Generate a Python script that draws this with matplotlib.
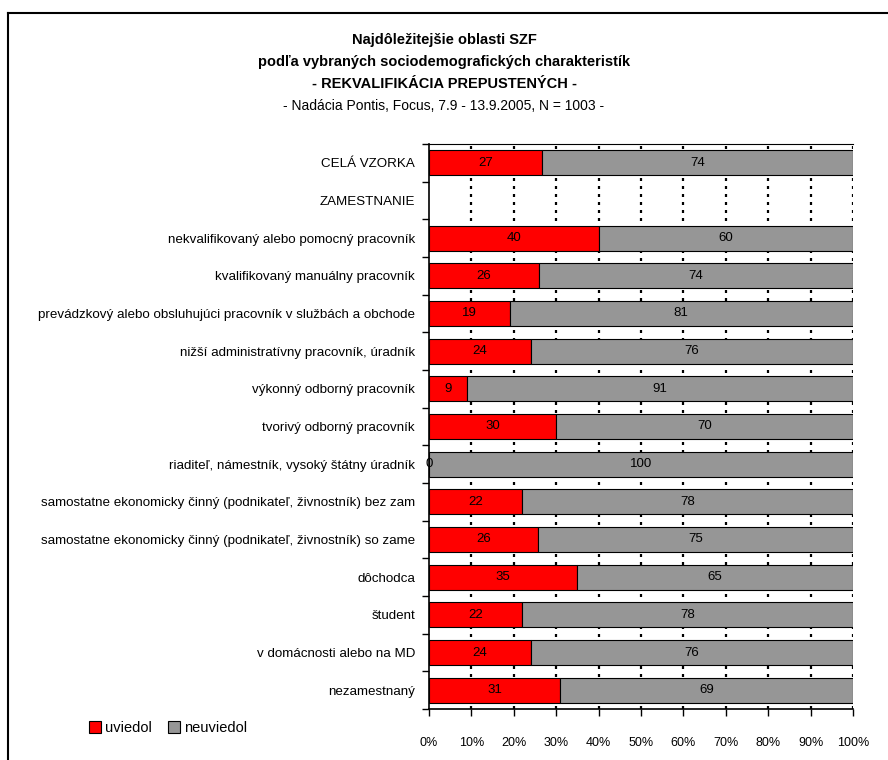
import numpy as np
import matplotlib
matplotlib.use("Agg")
from matplotlib import pyplot as plt
from matplotlib.patches import Patch
from matplotlib.lines import Line2D

plt.rcParams['font.family'] = ['Liberation Sans', 'DejaVu Sans']

categories = [
    "CELÁ VZORKA",
    "ZAMESTNANIE",
    "nekvalifikovaný alebo pomocný pracovník",
    "kvalifikovaný manuálny pracovník",
    "prevádzkový alebo obsluhujúci pracovník v službách a obchode",
    "nižší administratívny pracovník, úradník",
    "výkonný odborný pracovník",
    "tvorivý odborný pracovník",
    "riaditeľ, námestník, vysoký štátny úradník",
    "samostatne ekonomicky činný (podnikateľ, živnostník) bez zam",
    "samostatne ekonomicky činný (podnikateľ, živnostník) so zame",
    "dôchodca",
    "študent",
    "v domácnosti alebo na MD",
    "nezamestnaný",
]
# None = riadok bez údajov (nadpis skupiny)
uviedol = [27, None, 40, 26, 19, 24, 9, 30, 0, 22, 26, 35, 22, 24, 31]
neuviedol = [74, None, 60, 74, 81, 76, 91, 70, 100, 78, 75, 65, 78, 76, 69]
xticks = list(range(0, 101, 10))

red = "#FF0000"
gray = "#969696"

fig = plt.figure(figsize=(8.88, 7.6), dpi=100)
ax = fig.add_axes([429 / 888, 1 - 709 / 760, 424 / 888, 565 / 760])

n = len(categories)
y = np.arange(n)
bar_h = 0.66

for i in range(n):
    a, b = uviedol[i], neuviedol[i]
    if a is None:
        continue
    tot = a + b
    pa = 100.0 * a / tot
    pb = 100.0 * b / tot
    ax.barh(i, pa, height=bar_h, color=red, edgecolor="black", linewidth=0.8, zorder=3)
    ax.barh(i, pb, left=pa, height=bar_h, color=gray, edgecolor="black", linewidth=0.8, zorder=3)
    ax.text(pa / 2, i, "%d" % a, ha="center", va="center", fontsize=9.5, zorder=4)
    ax.text(pa + pb / 2, i, "%d" % b, ha="center", va="center", fontsize=9.5, zorder=4)

ax.set_xlim(0, 100)
ax.set_ylim(n - 0.5, -0.5)

# mriežka
for xv in xticks[1:]:
    ax.axvline(xv, color="black", linestyle=(0, (1.35, 2.25)), linewidth=1.6, zorder=1)

ax.set_xticks(xticks)
ax.set_xticklabels(["%d%%" % v for v in xticks], fontsize=9)
ax.tick_params(axis="x", direction="out", length=5, width=1, pad=15)

ax.set_yticks(y)
ax.set_yticklabels(categories, fontsize=9.6)
ax.set_yticks(np.arange(n + 1) - 0.5, minor=True)
ax.tick_params(axis="y", which="major", length=0, pad=10)
ax.tick_params(axis="y", which="minor", direction="out", length=5, width=1)

for s in ["left", "bottom"]:
    ax.spines[s].set_linewidth(1.2)
ax.spines["right"].set_visible(False)
ax.spines["top"].set_linewidth(0.8)

# titulky
fig.text(0.5, 1 - 40 / 760, "Najdôležitejšie oblasti SZF", ha="center", va="center",
         fontsize=10.5, fontweight="bold")
fig.text(0.5, 1 - 62 / 760, "podľa vybraných sociodemografických charakteristík", ha="center",
         va="center", fontsize=10.5, fontweight="bold")
fig.text(0.5, 1 - 84 / 760, "- REKVALIFIKÁCIA PREPUSTENÝCH -", ha="center", va="center",
         fontsize=10.5, fontweight="bold")
fig.text(0.5, 1 - 106 / 760, "- Nadácia Pontis, Focus, 7.9 - 13.9.2005, N = 1003 -", ha="center",
         va="center", fontsize=10)

handles = [Patch(facecolor=red, edgecolor="black", linewidth=0.8, label="uviedol"),
           Patch(facecolor=gray, edgecolor="black", linewidth=0.8, label="neuviedol")]
fig.legend(handles=handles, loc="center", bbox_to_anchor=(168 / 888, 1 - 728 / 760), ncol=2,
           frameon=False, fontsize=10.5, handlelength=0.85, handleheight=0.9, handletextpad=0.25,
           columnspacing=1.1)

# rám grafu
fig.add_artist(Line2D([8 / 888, 8 / 888], [0, 1 - 13 / 760], color="black", linewidth=1.5,
                      transform=fig.transFigure))
fig.add_artist(Line2D([8 / 888, 1], [1 - 13 / 760, 1 - 13 / 760], color="black", linewidth=1.5,
                      transform=fig.transFigure))

fig.savefig("out.png", dpi=100, facecolor="white")
